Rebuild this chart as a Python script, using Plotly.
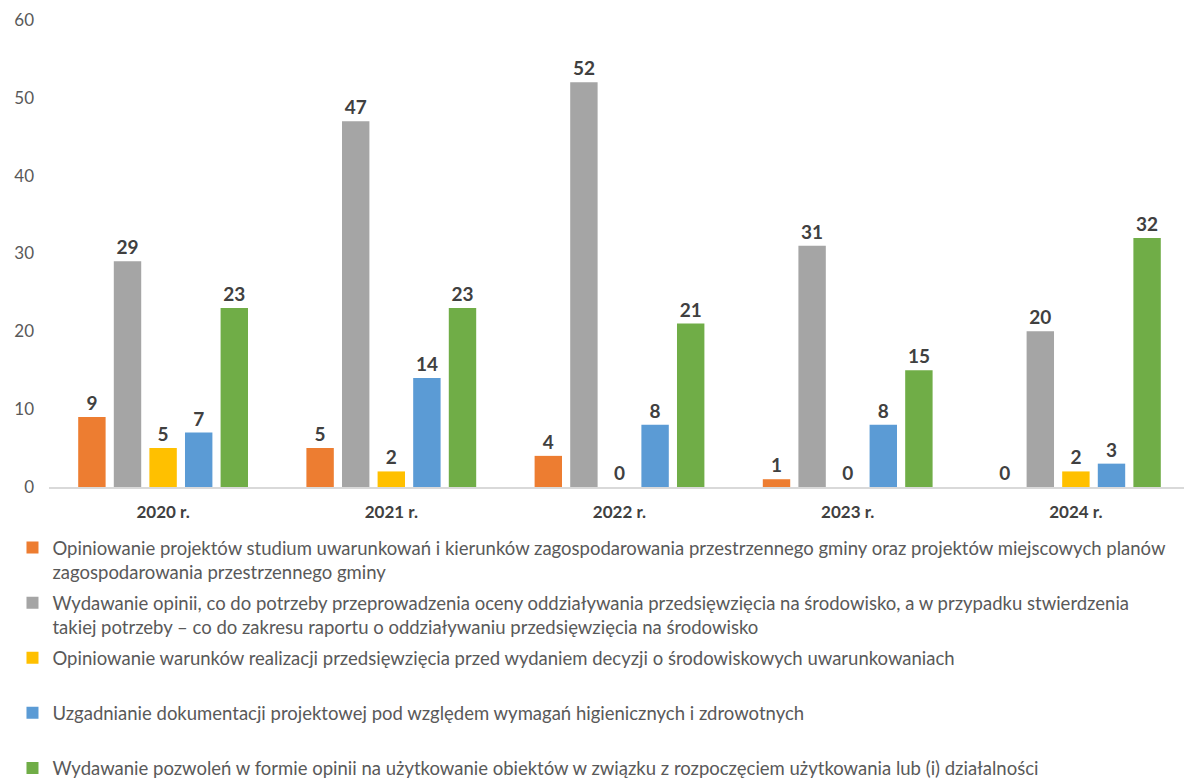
import plotly.graph_objects as go

categories = ["2020 r.", "2021 r.", "2022 r.", "2023 r.", "2024 r."]

names = [
    "Opiniowanie projektów studium uwarunkowań i kierunków zagospodarowania przestrzennego gminy oraz projektów miejscowych planów<br>zagospodarowania przestrzennego gminy",
    "Wydawanie opinii, co do potrzeby przeprowadzenia oceny oddziaływania przedsięwzięcia na środowisko, a w przypadku stwierdzenia<br>takiej potrzeby – co do zakresu raportu o oddziaływaniu przedsięwzięcia na środowisko",
    "Opiniowanie warunków realizacji przedsięwzięcia przed wydaniem decyzji o środowiskowych uwarunkowaniach<br>\u00a0",
    "Uzgadnianie dokumentacji projektowej pod względem wymagań higienicznych i zdrowotnych<br>\u00a0",
    "Wydawanie pozwoleń w formie opinii na użytkowanie obiektów w związku z rozpoczęciem użytkowania lub (i) działalności",
]

s_orange = [9, 5, 4, 1, 0]
s_gray = [29, 47, 52, 31, 20]
s_yellow = [5, 2, 0, 0, 2]
s_blue = [7, 14, 8, 8, 3]
s_green = [23, 23, 21, 15, 32]

colors = ["#ED7D31", "#A5A5A5", "#FFC000", "#5B9BD5", "#70AD47"]

FONT = "Lato"

fig = go.Figure()
for i, (vals, col) in enumerate(zip([s_orange, s_gray, s_yellow, s_blue, s_green], colors)):
    fig.add_trace(go.Bar(
        x=categories, y=vals, name=names[i], marker_color=col,
        marker_line_width=0,
        text=vals, texttemplate="<b>%{text}</b>", textposition="outside",
        textfont=dict(family=FONT, size=19, color="#404040"),
        cliponaxis=False, legendgroup=f"g{i}",
    ))

fig.update_layout(
    width=1192, height=778,
    paper_bgcolor="white", plot_bgcolor="white",
    margin=dict(l=41, r=10, t=12, b=299, autoexpand=False),
    barmode="group", bargap=0.22, bargroupgap=0.23,
    font=dict(family=FONT, color="#595959"),
    showlegend=True,
    legend=dict(
        orientation="v", x=-0.032, xanchor="left", y=-0.09, yanchor="top",
        font=dict(family=FONT, size=18.5, color="#595959"),
        tracegroupgap=4, valign="top", itemsizing="constant",
        traceorder="grouped", bgcolor="rgba(0,0,0,0)",
    ),
)
fig.update_yaxes(
    range=[0, 60], dtick=10, showgrid=False, zeroline=False, showline=False,
    automargin=False,
    tickfont=dict(family=FONT, size=17, color="#595959"), ticklabelstandoff=14,
)
fig.update_xaxes(
    showline=True, linecolor="#D9D9D9", linewidth=2, showgrid=False,
    automargin=False,
    tickfont=dict(family=FONT, size=17, color="#404040", weight="bold"),
    ticklabelstandoff=9,
)

fig.write_html("out.html")
